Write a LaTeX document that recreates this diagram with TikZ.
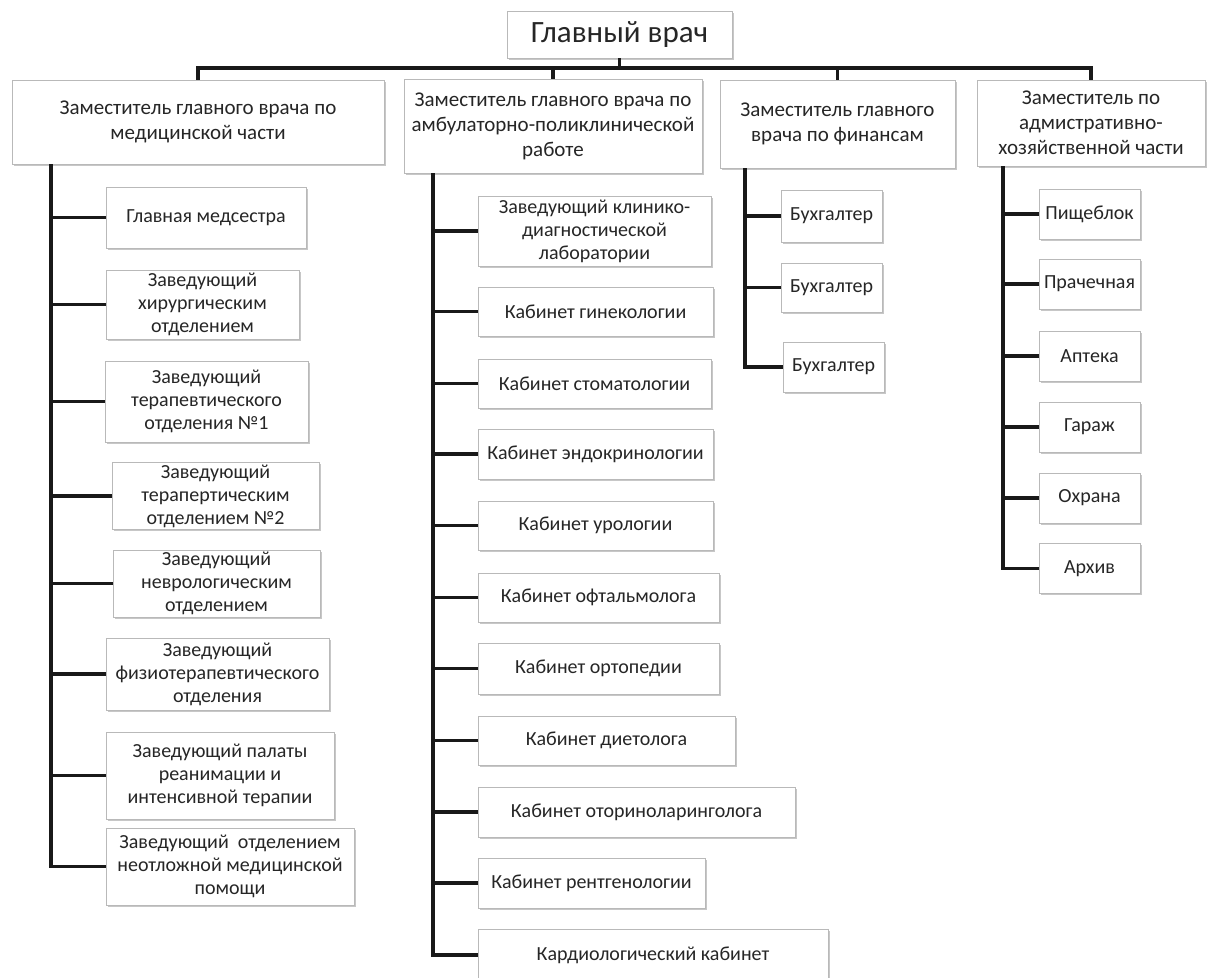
\documentclass[tikz,border=0pt]{standalone}
\usepackage{fontspec}
\setmainfont{Carlito}
\usetikzlibrary{shadows}
\tikzset{
  every picture/.style={x=1pt,y=-1pt},
  box/.style={draw=gray!55, line width=0.8pt, fill=white, align=center, inner sep=2pt,
    drop shadow={shadow xshift=1.6pt, shadow yshift=-1.6pt, fill=gray!55, opacity=0.8},
    font=\fontsize{20}{23}\selectfont, text=black!85},
  depbox/.style={box, font=\fontsize{21}{25}\selectfont},
  topbox/.style={box, font=\fontsize{31}{34}\selectfont},
  conn/.style={draw=black!90, line width=3.2pt, line cap=butt, line join=miter},
}
\begin{document}
\begin{tikzpicture}
\useasboundingbox (0,0) rectangle (1207,977);
\fill[white] (0,0) rectangle (1207,977);
% top
\node[topbox, minimum width=225, minimum height=47] (g) at (619.5,34.5) {Главный врач};
% deputies
\node[depbox, minimum width=372, minimum height=84] (d1) at (198,122) {Заместитель главного врача по\\медицинской части};
\node[depbox, minimum width=298, minimum height=94] (d2) at (553,126) {Заместитель главного врача по\\амбулаторно-поликлинической\\работе};
\node[depbox, minimum width=235, minimum height=88] (d3) at (837.5,124) {Заместитель главного\\врача по финансам};
\node[depbox, minimum width=228, minimum height=86] (d4) at (1091,123) {Заместитель по\\адмистративно-\\хозяйственной части};
% column 1
\node[box, minimum width=200, minimum height=61] (m1) at (206,217.5) {Главная медсестра};
\node[box, minimum width=193, minimum height=69] (m2) at (202.5,304.5) {Заведующий\\хирургическим\\отделением};
\node[box, minimum width=203, minimum height=81] (m3) at (206.5,401.5) {Заведующий\\терапевтического\\отделения №1};
\node[box, minimum width=207, minimum height=66] (m4) at (215.5,496) {Заведующий\\терапертическим\\отделением №2};
\node[box, minimum width=207, minimum height=65] (m5) at (216.5,583.5) {Заведующий\\неврологическим\\отделением};
\node[box, minimum width=223, minimum height=72] (m6) at (217.5,674) {Заведующий\\физиотерапевтического\\отделения};
\node[box, minimum width=228, minimum height=87] (m7) at (220,775.5) {Заведующий палаты\\реанимации и\\интенсивной терапии};
\node[box, minimum width=248, minimum height=77] (m8) at (230,866.5) {Заведующий\ \ отделением\\неотложной медицинской\\помощи};
% column 2
\node[box, minimum width=233, minimum height=70] (a1) at (594.5,231) {Заведующий клинико-\\диагностической\\лаборатории};
\node[box, minimum width=235, minimum height=49] (a2) at (595.5,311.5) {Кабинет гинекологии};
\node[box, minimum width=233, minimum height=49] (a3) at (594.5,383.5) {Кабинет стоматологии};
\node[box, minimum width=235, minimum height=50] (a4) at (595.5,454) {Кабинет эндокринологии};
\node[box, minimum width=235, minimum height=49] (a5) at (595.5,525.5) {Кабинет урологии};
\node[box, minimum width=241, minimum height=49] (a6) at (598.5,597.5) {Кабинет офтальмолога};
\node[box, minimum width=241, minimum height=51] (a7) at (598.5,668.5) {Кабинет ортопедии};
\node[box, minimum width=257, minimum height=49] (a8) at (606.5,740.5) {Кабинет диетолога};
\node[box, minimum width=317, minimum height=50] (a9) at (636.5,812) {Кабинет оториноларинголога};
\node[box, minimum width=227, minimum height=50] (a10) at (591.5,883) {Кабинет рентгенологии};
\node[box, minimum width=350, minimum height=52] (a11) at (653,955) {Кардиологический кабинет};
% column 3
\node[box, minimum width=101, minimum height=52] (b1) at (831.5,216) {Бухгалтер};
\node[box, minimum width=101, minimum height=49] (b2) at (831.5,287.5) {Бухгалтер};
\node[box, minimum width=101, minimum height=50] (b3) at (833.5,367) {Бухгалтер};
% column 4
\node[box, minimum width=101, minimum height=50] (c1) at (1089.5,214) {Пищеблок};
\node[box, minimum width=101, minimum height=50] (c2) at (1089.5,284) {Прачечная};
\node[box, minimum width=101, minimum height=50] (c3) at (1089.5,356) {Аптека};
\node[box, minimum width=101, minimum height=50] (c4) at (1089.5,427) {Гараж};
\node[box, minimum width=101, minimum height=50] (c5) at (1089.5,498) {Охрана};
\node[box, minimum width=101, minimum height=50] (c6) at (1089.5,568.5) {Архив};
% connectors: top bus
\coordinate (bus) at (0,68);
\draw[conn] (g.south) -- (g.south |- bus);
\draw[conn] (d1.north) -- (d1.north |- bus) -- (d4.north |- bus) -- (d4.north);
\draw[conn] (d2.north) -- (d2.north |- bus);
\draw[conn] (d3.north) -- (d3.north |- bus);
% trunks
\coordinate (t1) at (51,0);
\coordinate (t2) at (433,0);
\coordinate (t3) at (745,0);
\coordinate (t4) at (1003,0);
\draw[conn] (t1 |- d1.south) -- (t1 |- m8.west) -- (m8.west);
\foreach \n in {m1,m2,m3,m4,m5,m6,m7} \draw[conn] (t1 |- \n.west) -- (\n.west);
\draw[conn] (t2 |- d2.south) -- (t2 |- a11.west) -- (a11.west);
\foreach \n in {a1,a2,a3,a4,a5,a6,a7,a8,a9,a10} \draw[conn] (t2 |- \n.west) -- (\n.west);
\draw[conn] (t3 |- d3.south) -- (t3 |- b3.west) -- (b3.west);
\foreach \n in {b1,b2} \draw[conn] (t3 |- \n.west) -- (\n.west);
\draw[conn] (t4 |- d4.south) -- (t4 |- c6.west) -- (c6.west);
\foreach \n in {c1,c2,c3,c4,c5} \draw[conn] (t4 |- \n.west) -- (\n.west);
\end{tikzpicture}
\end{document}
